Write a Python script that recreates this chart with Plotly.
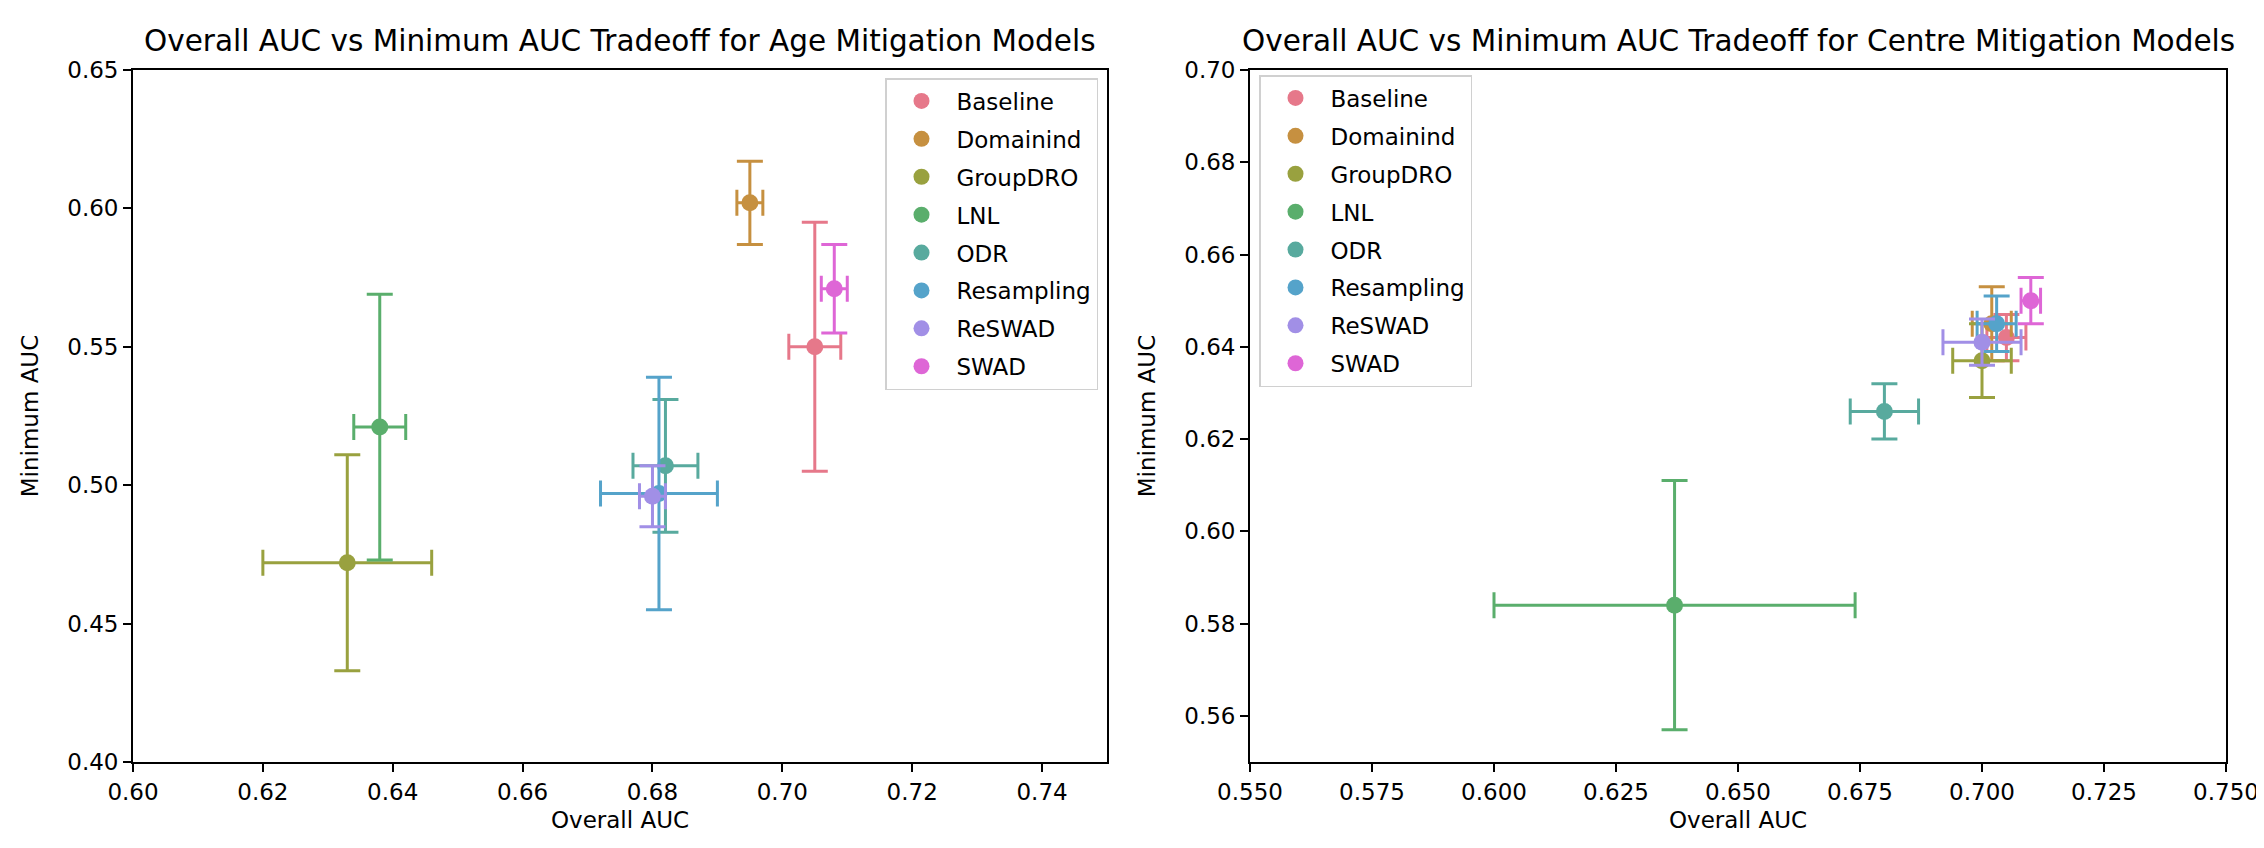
import plotly.graph_objects as go

methods = ["Baseline", "Domainind", "GroupDRO", "LNL", "ODR", "Resampling", "ReSWAD", "SWAD"]
colors = ["#e6788a", "#c69040", "#99a13f", "#5aae6c", "#58aa9e", "#55a3ca", "#a18fe6", "#de66d6"]

# Age mitigation models
age_x = [0.705, 0.695, 0.633, 0.638, 0.682, 0.681, 0.680, 0.708]
age_y = [0.550, 0.602, 0.472, 0.521, 0.507, 0.497, 0.496, 0.571]
age_xerr = [0.004, 0.002, 0.013, 0.004, 0.005, 0.009, 0.002, 0.002]
age_yerr = [0.045, 0.015, 0.039, 0.048, 0.024, 0.042, 0.011, 0.016]

# Centre mitigation models
centre_x = [0.705, 0.702, 0.700, 0.637, 0.680, 0.703, 0.700, 0.710]
centre_y = [0.642, 0.645, 0.637, 0.584, 0.626, 0.645, 0.641, 0.650]
centre_xerr = [0.004, 0.004, 0.006, 0.037, 0.007, 0.004, 0.008, 0.002]
centre_yerr = [0.005, 0.008, 0.008, 0.027, 0.006, 0.006, 0.005, 0.005]

age_xticks = [0.60, 0.62, 0.64, 0.66, 0.68, 0.70, 0.72, 0.74]
age_yticks = [0.40, 0.45, 0.50, 0.55, 0.60, 0.65]
centre_xticks = [0.550, 0.575, 0.600, 0.625, 0.650, 0.675, 0.700, 0.725, 0.750]
centre_yticks = [0.56, 0.58, 0.60, 0.62, 0.64, 0.66, 0.68, 0.70]

titles = ["Overall AUC vs Minimum AUC Tradeoff for Age Mitigation Models",
          "Overall AUC vs Minimum AUC Tradeoff for Centre Mitigation Models"]

fig = go.Figure()

panels = [
    (age_x, age_y, age_xerr, age_yerr, "x", "y", "legend", "a"),
    (centre_x, centre_y, centre_xerr, centre_yerr, "x2", "y2", "legend2", "c"),
]
for xs, ys, xe, ye, xa, ya, lg, tag in panels:
    for i, m in enumerate(methods):
        c = colors[i]
        fig.add_trace(go.Scatter(
            x=[xs[i]], y=[ys[i]], mode="markers", name=m,
            xaxis=xa, yaxis=ya, legend=lg, legendgroup=f"{tag}{i}",
            marker=dict(size=17, color=c),
            error_x=dict(type="data", array=[xe[i]], color=c, thickness=3, width=13),
            error_y=dict(type="data", array=[ye[i]], color=c, thickness=3, width=13),
        ))

W, H = 2264, 848
L, R, T, B = 125, 46, 62, 94
PW, PH = W - L - R, H - T - B
font = "DejaVu Sans, Arial, sans-serif"
axis_common = dict(
    showline=True, linecolor="black", linewidth=1.8, mirror=True,
    ticks="outside", ticklen=8, tickwidth=1.8, tickcolor="black",
    showgrid=False, zeroline=False, automargin=False,
    tickfont=dict(size=23, color="black"),
    title_font=dict(size=23, color="black"),
)

fig.update_layout(
    template="none",
    width=W, height=H, margin=dict(l=L, r=R, t=T, b=B, pad=0),
    paper_bgcolor="white", plot_bgcolor="white",
    font=dict(family=font, color="black"),
    showlegend=True,
    xaxis=dict(domain=[0, (1099 - L) / PW], range=[0.60, 0.75], tickvals=age_xticks,
               tickformat=".2f", anchor="y", title_text="Overall AUC", title_standoff=8,
               **axis_common),
    yaxis=dict(domain=[0, 1], range=[0.40, 0.65], tickvals=age_yticks,
               tickformat=".2f", anchor="x", title_text="Minimum AUC", title_standoff=22,
               **axis_common),
    xaxis2=dict(domain=[(1242 - L) / PW, 1], range=[0.55, 0.75], tickvals=centre_xticks,
                tickformat=".3f", anchor="y2", title_text="Overall AUC", title_standoff=8,
                **axis_common),
    yaxis2=dict(domain=[0, 1], range=[0.55, 0.70], tickvals=centre_yticks,
                tickformat=".2f", anchor="x2", title_text="Minimum AUC", title_standoff=22,
                **axis_common),
    legend=dict(x=(1090 - L) / PW, y=1 - (70 - T) / PH, xanchor="right", yanchor="top",
                bgcolor="rgba(255,255,255,0.8)", bordercolor="#d0d0d0", borderwidth=1.5,
                tracegroupgap=5, itemwidth=60, font=dict(size=23, color="black")),
    legend2=dict(x=(1251 - L) / PW, y=1 - (67 - T) / PH, xanchor="left", yanchor="top",
                 bgcolor="rgba(255,255,255,0.8)", bordercolor="#d0d0d0", borderwidth=1.5,
                 tracegroupgap=5, itemwidth=60, font=dict(size=23, color="black")),
    annotations=[
        dict(text=titles[0], x=(1099 / 2 + 125 / 2 - L) / PW, y=1 + 10 / PH,
             xref="paper", yref="paper", xanchor="center", yanchor="bottom", showarrow=False,
             font=dict(size=29.5, color="black")),
        dict(text=titles[1], x=(2218 / 2 + 1242 / 2 - L) / PW, y=1 + 10 / PH,
             xref="paper", yref="paper", xanchor="center", yanchor="bottom", showarrow=False,
             font=dict(size=29.5, color="black")),
    ],
)

fig.write_html("out.html")
